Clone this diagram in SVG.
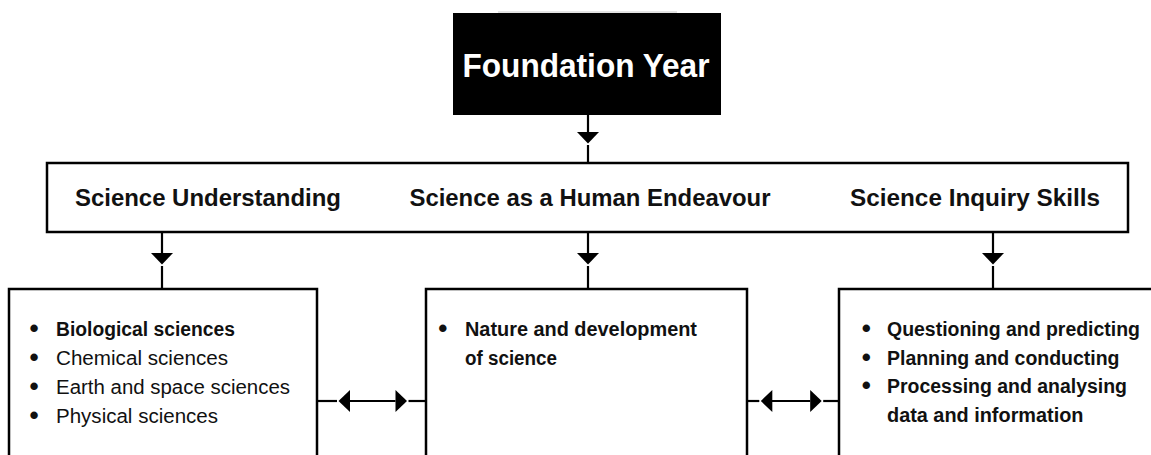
<svg xmlns="http://www.w3.org/2000/svg" width="1151" height="455" viewBox="0 0 1151 455">
<style>
  .box { fill: #fff; stroke: #000; stroke-width: 2.5; }
  .ln { stroke: #000; stroke-width: 2.2; fill: none; }
  .hd { font-family: "Liberation Sans", Arial, sans-serif; font-weight: bold; font-size: 23px; fill: #111; }
  .b { font-family: "Liberation Sans", Arial, sans-serif; font-weight: bold; font-size: 20px; fill: #111; }
  .r { font-family: "Liberation Sans", Arial, sans-serif; font-size: 20px; fill: #111; }
  .bul { font-family: "Liberation Sans", Arial, sans-serif; font-weight: bold; font-size: 26px; fill: #111; }
</style>
<defs>
  <path id="tri-down" d="M -11 0 L 11 0 L 0 11.5 Z" fill="#000"/>
  <path id="tri-left" d="M 0 0 L 11.5 -11 L 11.5 11 Z" fill="#000"/>
  <path id="tri-right" d="M 0 -11 L 11.5 0 L 0 11 Z" fill="#000"/>
</defs>
<rect width="1151" height="455" fill="#fff"/>

<g id="foundation-year">
  <line x1="498" y1="12" x2="677" y2="12" stroke="#c8c8c8" stroke-width="1"/>
  <rect x="453" y="13" width="268" height="102" fill="#000"/>
  <text x="462.5" y="77" font-family="'Liberation Sans', Arial, sans-serif" font-weight="bold" font-size="33" fill="#fff" textLength="247" lengthAdjust="spacingAndGlyphs">Foundation Year</text>
</g>

<g id="strands">
  <rect class="box" x="47" y="163" width="1081" height="69"/>
  <text class="hd" x="75" y="205.5" textLength="266" lengthAdjust="spacingAndGlyphs">Science Understanding</text>
  <text class="hd" x="409.5" y="205.5" textLength="361" lengthAdjust="spacingAndGlyphs">Science as a Human Endeavour</text>
  <text class="hd" x="850" y="205.5" textLength="250" lengthAdjust="spacingAndGlyphs">Science Inquiry Skills</text>
</g>

<g id="science-understanding">
  <rect class="box" x="9" y="289" width="308" height="190"/>
  <text class="bul" x="29.5" y="337">•</text>
  <text class="bul" x="29.5" y="366">•</text>
  <text class="bul" x="29.5" y="395">•</text>
  <text class="bul" x="29.5" y="423.5">•</text>
  <text class="b" x="56" y="336" textLength="179" lengthAdjust="spacingAndGlyphs">Biological sciences</text>
  <text class="r" x="56" y="365" textLength="172" lengthAdjust="spacingAndGlyphs">Chemical sciences</text>
  <text class="r" x="56" y="394" textLength="234" lengthAdjust="spacingAndGlyphs">Earth and space sciences</text>
  <text class="r" x="56" y="422.5" textLength="162" lengthAdjust="spacingAndGlyphs">Physical sciences</text>
</g>

<g id="science-human-endeavour">
  <rect class="box" x="426" y="289" width="321" height="190"/>
  <text class="bul" x="438.2" y="337">•</text>
  <text class="b" x="465" y="336" textLength="232" lengthAdjust="spacingAndGlyphs">Nature and development</text>
  <text class="b" x="465" y="365" textLength="92" lengthAdjust="spacingAndGlyphs">of science</text>
</g>

<g id="science-inquiry-skills">
  <rect class="box" x="839" y="289" width="330" height="190"/>
  <text class="bul" x="861.8" y="337">•</text>
  <text class="bul" x="861.8" y="366">•</text>
  <text class="bul" x="861.8" y="394">•</text>
  <text class="b" x="887" y="336" textLength="253" lengthAdjust="spacingAndGlyphs">Questioning and predicting</text>
  <text class="b" x="887" y="365" textLength="232.5" lengthAdjust="spacingAndGlyphs">Planning and conducting</text>
  <text class="b" x="887" y="393" textLength="240" lengthAdjust="spacingAndGlyphs">Processing and analysing</text>
  <text class="b" x="887" y="421.5" textLength="196.5" lengthAdjust="spacingAndGlyphs">data and information</text>
</g>

<g id="connectors">
  <!-- Foundation Year to strands -->
  <line class="ln" x1="588" y1="115" x2="588" y2="132"/>
  <use href="#tri-down" x="588" y="132"/>
  <line class="ln" x1="588" y1="145" x2="588" y2="163"/>
  <!-- Science Understanding down -->
  <line class="ln" x1="162" y1="232" x2="162" y2="253"/>
  <use href="#tri-down" x="162" y="253"/>
  <line class="ln" x1="162" y1="266" x2="162" y2="289"/>
  <!-- Human Endeavour down -->
  <line class="ln" x1="588" y1="232" x2="588" y2="253"/>
  <use href="#tri-down" x="588" y="253"/>
  <line class="ln" x1="588" y1="266" x2="588" y2="289"/>
  <!-- Inquiry Skills down -->
  <line class="ln" x1="993" y1="232" x2="993" y2="253"/>
  <use href="#tri-down" x="993" y="253"/>
  <line class="ln" x1="993" y1="266" x2="993" y2="289"/>
  <!-- left double arrow -->
  <line class="ln" x1="317" y1="401" x2="337" y2="401"/>
  <use href="#tri-left" x="338.5" y="401"/>
  <line class="ln" x1="350" y1="401" x2="395.5" y2="401"/>
  <use href="#tri-right" x="395.5" y="401"/>
  <line class="ln" x1="408.5" y1="401" x2="426" y2="401"/>
  <!-- right double arrow -->
  <line class="ln" x1="747" y1="401" x2="759.3" y2="401"/>
  <use href="#tri-left" x="760.8" y="401"/>
  <line class="ln" x1="772" y1="401" x2="810.2" y2="401"/>
  <use href="#tri-right" x="810.2" y="401"/>
  <line class="ln" x1="823.2" y1="401" x2="839" y2="401"/>
</g>
</svg>
